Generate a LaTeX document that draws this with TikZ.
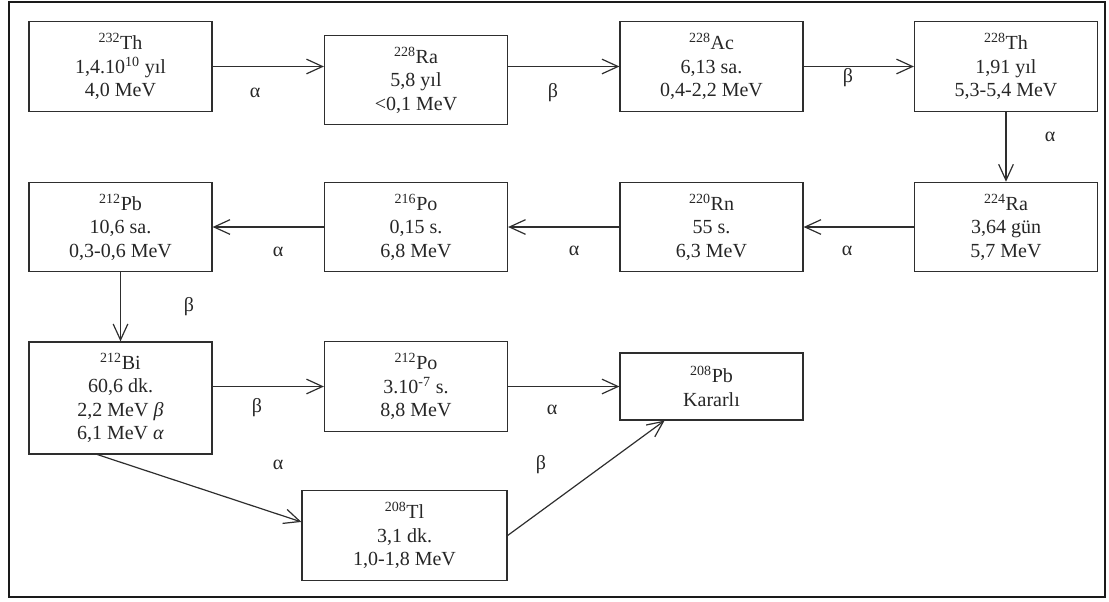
\documentclass[tikz,border=0pt]{standalone}
\usepackage{fontspec}
\setmainfont{Liberation Serif}
\usetikzlibrary{arrows.meta,calc}
\definecolor{frameline}{HTML}{1A1A1A}
\definecolor{boxline}{HTML}{2E2E2E}
\definecolor{inktext}{HTML}{262626}
\tikzset{
  nuclidebox/.style={draw=boxline, line width=0.9pt, align=center, inner sep=0pt,
    minimum width=137.25pt, minimum height=67pt, text=inktext,
    font=\fontsize{15pt}{17.6pt}\selectfont},
  arr/.style={-{Straight Barb[length=12pt, width=11pt]}, line width=0.9pt, draw=boxline},
  decay/.style={inner sep=0pt, text=inktext, font=\fontsize{15pt}{17.6pt}\selectfont}
}
\begin{document}
\begin{tikzpicture}[x=0.75pt,y=-0.75pt]
  \useasboundingbox (0,0) rectangle (1109,601);
  \draw[line width=1.6pt, draw=frameline] (9,2) rectangle (1105,597);

  \node[nuclidebox] (th232) at (120.5,66.5) {\textsuperscript{232}Th\\1,4.10\textsuperscript{10} yıl\\4,0 MeV};
  \node[nuclidebox] (ra228) at (416,80) {\textsuperscript{228}Ra\\5,8 yıl\\<0,1 MeV};
  \node[nuclidebox] (ac228) at (711.5,66.5) {\textsuperscript{228}Ac\\6,13 sa.\\0,4-2,2 MeV};
  \node[nuclidebox] (th228) at (1006,66.5) {\textsuperscript{228}Th\\1,91 yıl\\5,3-5,4 MeV};
  \node[nuclidebox] (ra224) at (1006,227) {\textsuperscript{224}Ra\\3,64 gün\\5,7 MeV};
  \node[nuclidebox] (rn220) at (711.5,227) {\textsuperscript{220}Rn\\55 s.\\6,3 MeV};
  \node[nuclidebox] (po216) at (416,227) {\textsuperscript{216}Po\\0,15 s.\\6,8 MeV};
  \node[nuclidebox] (pb212) at (120.5,227) {\textsuperscript{212}Pb\\10,6 sa.\\0,3-0,6 MeV};
  \node[nuclidebox, minimum height=84pt] (bi212) at (120.5,398) {\textsuperscript{212}Bi\\60,6 dk.\\2,2 MeV \textit{β}\\6,1 MeV \textit{α}};
  \node[nuclidebox] (po212) at (416,386.5) {\textsuperscript{212}Po\\3.10\textsuperscript{-7} s.\\8,8 MeV};
  \node[nuclidebox, minimum height=50.25pt] (pb208) at (711.5,386.5) {\textsuperscript{208}Pb\\Kararlı};
  \node[nuclidebox, minimum width=153.75pt] (tl208) at (404.5,535.5) {\textsuperscript{208}Tl\\3,1 dk.\\1,0-1,8 MeV};

  \draw[arr] (th232.east) -- (th232.east -| ra228.west);
  \draw[arr] (ra228.east |- ac228.west) -- (ac228.west);
  \draw[arr] (ac228) -- (th228);
  \draw[arr] (th228) -- (ra224);
  \draw[arr] (ra224) -- (rn220);
  \draw[arr] (rn220) -- (po216);
  \draw[arr] (po216) -- (pb212);
  \draw[arr] (pb212) -- (bi212);
  \draw[arr] (bi212.east |- po212.west) -- (po212.west);
  \draw[arr] (po212) -- (pb208);
  \draw[arr] ($(bi212.south)!0.25!(bi212.south west)$) -- ($(tl208.west)!0.3!(tl208.north west)$);
  \draw[arr] (tl208.east) -- ($(pb208.south)!0.51!(pb208.south west)$);

  \node[decay] (d1) at (255,93) {α};
  \node[decay] (d2) at (553,93) {β};
  \node[decay] (d3) at (848,78) {β};
  \node[decay] (d4) at (1050,137) {α};
  \node[decay] (d5) at (847,251) {α};
  \node[decay] (d6) at (574,251) {α};
  \node[decay] (d7) at (278,252) {α};
  \node[decay] (d8) at (189,307) {β};
  \node[decay] (d9) at (257,408) {β};
  \node[decay] (d10) at (552,410) {α};
  \node[decay] (d11) at (278,465) {α};
  \node[decay] (d12) at (541,465) {β};
\end{tikzpicture}
\end{document}
